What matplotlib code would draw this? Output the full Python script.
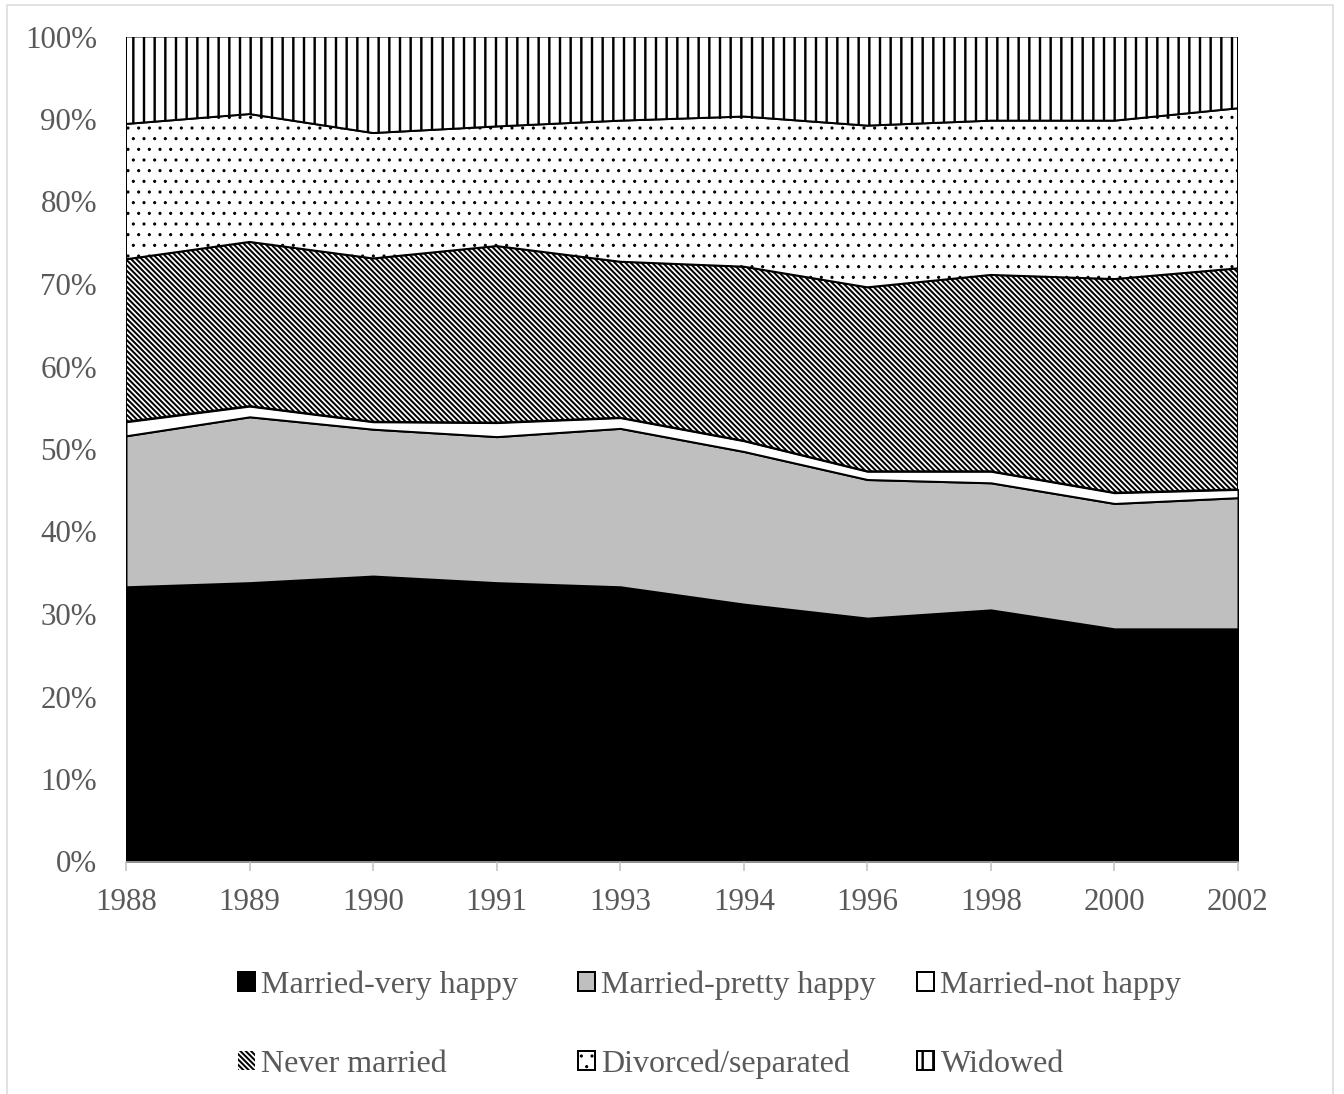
import matplotlib
matplotlib.use("Agg")
import matplotlib.pyplot as plt
from matplotlib.ticker import PercentFormatter, MultipleLocator
from matplotlib.patches import Rectangle
import numpy as np

# Survey years and the share (%) of respondents in each marital/happiness group
years = ["1988", "1989", "1990", "1991", "1993", "1994", "1996", "1998", "2000", "2002"]
married_very_happy = [33.3, 33.8, 34.6, 33.8, 33.3, 31.2, 29.5, 30.5, 28.2, 28.2]
married_pretty_happy = [18.3, 20.1, 17.8, 17.7, 19.2, 18.5, 16.8, 15.4, 15.2, 15.9]
married_not_happy = [1.7, 1.3, 0.9, 1.7, 1.3, 1.3, 1.0, 1.4, 1.3, 1.0]
never_married = [19.7, 19.9, 19.8, 21.4, 18.9, 21.1, 22.3, 23.8, 25.9, 26.8]
divorced_separated = [16.4, 15.5, 15.2, 14.5, 17.1, 18.2, 19.6, 18.7, 19.2, 19.4]
widowed = [10.6, 9.4, 11.7, 10.9, 10.2, 9.7, 10.8, 10.2, 10.2, 8.7]
series_labels = ["Married-very happy", "Married-pretty happy", "Married-not happy",
                 "Never married", "Divorced/separated", "Widowed"]

DPI = 128
W, H = 1344, 1094


def pt(px):
    """Convert pixels to points at the figure resolution."""
    return px * 72.0 / DPI


plt.rcParams["font.family"] = ["Liberation Serif", "DejaVu Serif"]
plt.rcParams["hatch.linewidth"] = pt(2.0)
plt.rcParams["hatch.color"] = "black"

TEXT = "#595959"
TICK_FS = pt(31)
LEG_FS = pt(32)

fig = plt.figure(figsize=(W / DPI, H / DPI), dpi=DPI)

# light chart-area border
fig.patches.append(Rectangle((7 / W, -0.05), (1333 - 7) / W, 1.05 - 5 / H,
                             transform=fig.transFigure, fill=False,
                             edgecolor="#d9d9d9", linewidth=pt(1.5)))

ax = fig.add_axes([126 / W, 1 - 861.5 / H, (1238 - 126) / W, (861.5 - 36.5) / H])

data = np.array([married_very_happy, married_pretty_happy, married_not_happy,
                 never_married, divorced_separated, widowed], dtype=float)
shares = data / data.sum(axis=0)
x = np.arange(len(years))

facecolors = ["black", "#bfbfbf", "white", "white", "white", "white"]
hatches = [None, None, None, "\\" * 8, "..", "||"]
hatch_widths = [2.0, 2.0, 2.0, 2.0, 1.0, 2.4]

polys = ax.stackplot(x, shares, colors=facecolors, hatch=hatches,
                     edgecolor="black", linewidth=pt(2.0), labels=series_labels)
for poly, hw in zip(polys, hatch_widths):
    if hasattr(poly, "set_hatch_linewidth"):
        poly.set_hatch_linewidth(pt(hw))

ax.set_xlim(0, len(years) - 1)
ax.set_ylim(0, 1)
ax.set_xticks(x)
ax.set_xticklabels(years)
ax.yaxis.set_major_locator(MultipleLocator(0.1))
ax.yaxis.set_major_formatter(PercentFormatter(1.0, decimals=0))

for side in ["left", "right", "top"]:
    ax.spines[side].set_visible(False)
ax.spines["bottom"].set_color("#bfbfbf")
ax.spines["bottom"].set_linewidth(pt(1.5))

ax.tick_params(axis="x", length=pt(9), width=pt(1.5), color="#bfbfbf",
               labelsize=TICK_FS, labelcolor=TEXT, pad=pt(17))
ax.tick_params(axis="y", length=0, labelsize=TICK_FS, labelcolor=TEXT, pad=pt(29))

# legend: one entry per slot, three columns by two rows
legend_slots = [(238, 985), (578, 985), (917, 985),
                (238, 1064), (578, 1064), (917, 1064)]
for i, (poly, label, (lx, ly), hw) in enumerate(
        zip(polys, series_labels, legend_slots, hatch_widths)):
    leg = fig.legend([poly], [label], loc="center left",
                     bbox_to_anchor=(lx / W, 1 - ly / H),
                     frameon=False, fontsize=LEG_FS, labelcolor=TEXT,
                     handlelength=17 / 32, handleheight=17 / 32,
                     handletextpad=0.2, borderpad=0, borderaxespad=0)
    for h in leg.legend_handles:
        if hasattr(h, "set_hatch_linewidth"):
            h.set_hatch_linewidth(pt(hw))
        if label == "Never married":
            h.set_linewidth(0)

fig.savefig("out.png", dpi=DPI)
